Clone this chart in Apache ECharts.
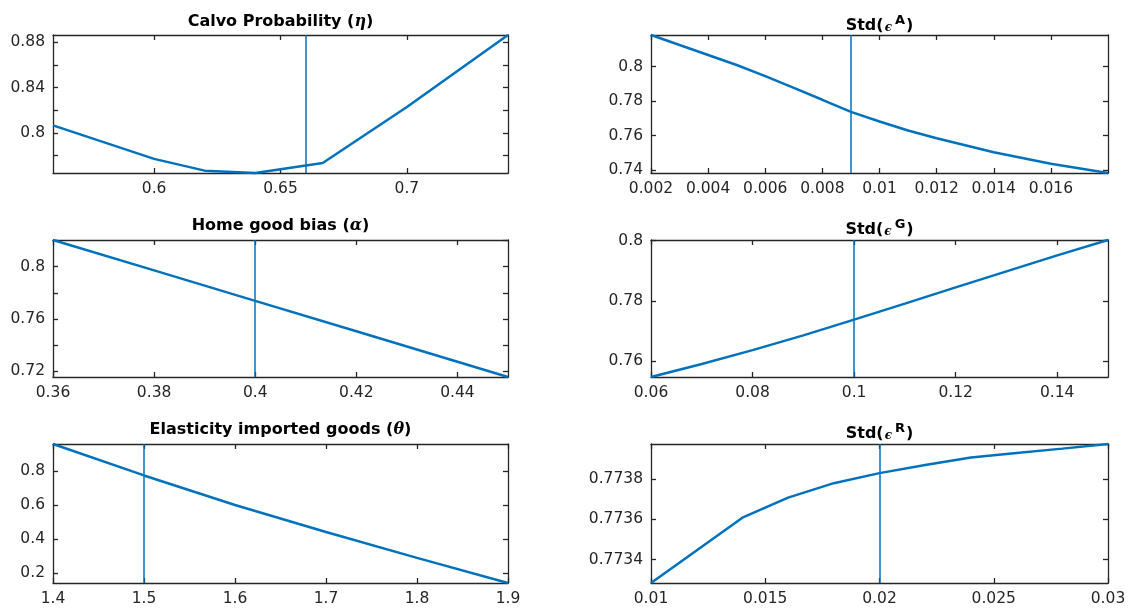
<!DOCTYPE html>
<html><head><meta charset="utf-8">
<script src="https://cdn.jsdelivr.net/npm/echarts@6/dist/echarts.min.js"></script>
<style>html,body{margin:0;padding:0;background:#fff}#c{width:1141px;height:610px}</style>
</head><body><div id="c"></div>
<script>
// ---- data ----
const calvoX = [0.56, 0.60, 0.62, 0.64, 0.6667, 0.70, 0.74];
const calvoY = [0.8065, 0.7769, 0.7665, 0.7644, 0.7733, 0.8228, 0.8865];
const calvoMark = 0.66;

const stdAX = [0.002, 0.005, 0.006, 0.007, 0.008, 0.009, 0.010, 0.011, 0.012, 0.014, 0.016, 0.018];
const stdAY = [0.8184, 0.8010, 0.7945, 0.7877, 0.7808, 0.7738, 0.7682, 0.7630, 0.7585, 0.7503, 0.7437, 0.7383];
const stdAMark = 0.009;

const homeX = [0.36, 0.38, 0.40, 0.42, 0.44, 0.45];
const homeY = [0.8205, 0.7972, 0.7738, 0.7505, 0.7271, 0.7154];
const homeMark = 0.40;

const stdGX = [0.06, 0.07, 0.08, 0.09, 0.10, 0.11, 0.12, 0.13, 0.14, 0.15];
const stdGY = [0.7548, 0.7591, 0.7637, 0.7686, 0.7738, 0.7791, 0.7845, 0.7898, 0.7951, 0.8002];
const stdGMark = 0.10;

const elasX = [1.4, 1.5, 1.6, 1.7, 1.8, 1.9];
const elasY = [0.959, 0.774, 0.600, 0.441, 0.289, 0.141];
const elasMark = 1.5;

const stdRX = [0.010, 0.014, 0.016, 0.018, 0.020, 0.022, 0.024, 0.026, 0.028, 0.030];
const stdRY = [0.773283, 0.773608, 0.773708, 0.773780, 0.773830, 0.773870, 0.773908, 0.773930, 0.773952, 0.773975];
const stdRMark = 0.02;

// ---- tick positions / labels ----
const calvoXTicks = [0.6, 0.65, 0.7];
const calvoYTicks = [0.78, 0.8, 0.82, 0.84, 0.86, 0.88];
const calvoYLabels = [0.8, 0.84, 0.88];

const stdAXTicks = [0.002, 0.004, 0.006, 0.008, 0.01, 0.012, 0.014, 0.016];
const stdAYTicks = [0.74, 0.76, 0.78, 0.8];

const homeXTicks = [0.36, 0.38, 0.4, 0.42, 0.44];
const homeYTicks = [0.72, 0.74, 0.76, 0.78, 0.8, 0.82];
const homeYLabels = [0.72, 0.76, 0.8];

const stdGXTicks = [0.06, 0.08, 0.1, 0.12, 0.14];
const stdGYTicks = [0.76, 0.78, 0.8];

const elasXTicks = [1.4, 1.5, 1.6, 1.7, 1.8, 1.9];
const elasYTicks = [0.2, 0.4, 0.6, 0.8];

const stdRXTicks = [0.01, 0.015, 0.02, 0.025, 0.03];
const stdRYTicks = [0.7734, 0.7736, 0.7738];

const titles = [
  '{b|Calvo Probability (}{g|η}{b|)}',
  '{b|Std(}{e|ϵ}{s|A}{b|)}',
  '{b|Home good bias (}{g|α}{b|)}',
  '{b|Std(}{e|ϵ}{s|G}{b|)}',
  '{b|Elasticity imported goods (}{g|θ}{b|)}',
  '{b|Std(}{e|ϵ}{s|R}{b|)}'
];

// ---- layout ----
const BLUE = '#0072BD';
const AX = '#262626';
const grids = [
  {left: 53, top: 35, width: 455, height: 138},
  {left: 651, top: 35, width: 457, height: 138},
  {left: 53, top: 240, width: 455, height: 137},
  {left: 651, top: 240, width: 457, height: 137},
  {left: 53, top: 444, width: 455, height: 139},
  {left: 651, top: 444, width: 457, height: 139}
];
const titleTops = [14, 218, 422];

const panels = [
  {x: calvoX, y: calvoY, mark: calvoMark, xt: calvoXTicks, xl: calvoXTicks, yt: calvoYTicks, yl: calvoYLabels},
  {x: stdAX, y: stdAY, mark: stdAMark, xt: stdAXTicks, xl: stdAXTicks, yt: stdAYTicks, yl: stdAYTicks},
  {x: homeX, y: homeY, mark: homeMark, xt: homeXTicks, xl: homeXTicks, yt: homeYTicks, yl: homeYLabels},
  {x: stdGX, y: stdGY, mark: stdGMark, xt: stdGXTicks, xl: stdGXTicks, yt: stdGYTicks, yl: stdGYTicks},
  {x: elasX, y: elasY, mark: elasMark, xt: elasXTicks, xl: elasXTicks, yt: elasYTicks, yl: elasYTicks},
  {x: stdRX, y: stdRY, mark: stdRMark, xt: stdRXTicks, xl: stdRXTicks, yt: stdRYTicks, yl: stdRYTicks}
];

const richStyles = {
  b: {fontFamily: 'DejaVu Sans', fontWeight: 'bold', fontSize: 16, color: '#000'},
  g: {fontFamily: 'DejaVu Serif', fontStyle: 'italic', fontSize: 16, color: '#000'},
  e: {fontFamily: 'DejaVu Serif', fontStyle: 'italic', fontSize: 12, color: '#000', padding: [5, 3, 0, 1]},
  s: {fontFamily: 'DejaVu Sans', fontWeight: 'bold', fontSize: 13, color: '#000', padding: [0, 1, 10, 0]}
};

const option = {
  animation: false,
  backgroundColor: '#fff',
  title: [], grid: [], xAxis: [], yAxis: [], series: []
};

function axisCommon(ticks, labels, showLabels) {
  return {
    type: 'value',
    axisLine: {show: true, onZero: false, lineStyle: {color: AX, width: 1.3}},
    axisTick: {show: true, inside: true, length: 5, customValues: ticks, lineStyle: {color: AX, width: 1.3}},
    axisLabel: {show: showLabels, customValues: labels, color: AX, fontFamily: 'DejaVu Sans', fontSize: 15.5, margin: 8},
    splitLine: {show: false}
  };
}

panels.forEach((p, i) => {
  const g = grids[i];
  option.grid.push(Object.assign({containLabel: false}, g));
  const xMin = Math.min(...p.x), xMax = Math.max(...p.x);
  const yMin = Math.min(...p.y), yMax = Math.max(...p.y);
  const cx = g.left + g.width / 2;
  option.title.push({
    text: titles[i], left: cx, top: titleTops[Math.floor(i / 2)], textAlign: 'center', padding: 0,
    textStyle: {rich: richStyles}
  });
  option.xAxis.push(Object.assign(axisCommon(p.xt, p.xl, true), {gridIndex: i, position: 'bottom', min: xMin, max: xMax}));
  option.xAxis.push(Object.assign(axisCommon(p.xt, p.xl, false), {gridIndex: i, position: 'top', min: xMin, max: xMax}));
  option.yAxis.push(Object.assign(axisCommon(p.yt, p.yl, true), {gridIndex: i, position: 'left', min: yMin, max: yMax}));
  option.yAxis.push(Object.assign(axisCommon(p.yt, p.yl, false), {gridIndex: i, position: 'right', min: yMin, max: yMax}));
  option.series.push({
    type: 'line',
    xAxisIndex: 2 * i, yAxisIndex: 2 * i,
    data: p.x.map((v, k) => [v, p.y[k]]),
    showSymbol: false, symbol: 'none',
    lineStyle: {color: BLUE, width: 2.5},
    itemStyle: {color: BLUE},
    clip: false,
    markLine: {
      silent: true, symbol: ['none', 'none'], label: {show: false},
      precision: 8,
      lineStyle: {color: BLUE, width: 1.5, type: 'solid'},
      emphasis: {disabled: true},
      data: [{xAxis: p.mark}]
    }
  });
});

const chart = echarts.init(document.getElementById('c'), null, {renderer: 'canvas'});
chart.setOption(option);
</script>
</body></html>
